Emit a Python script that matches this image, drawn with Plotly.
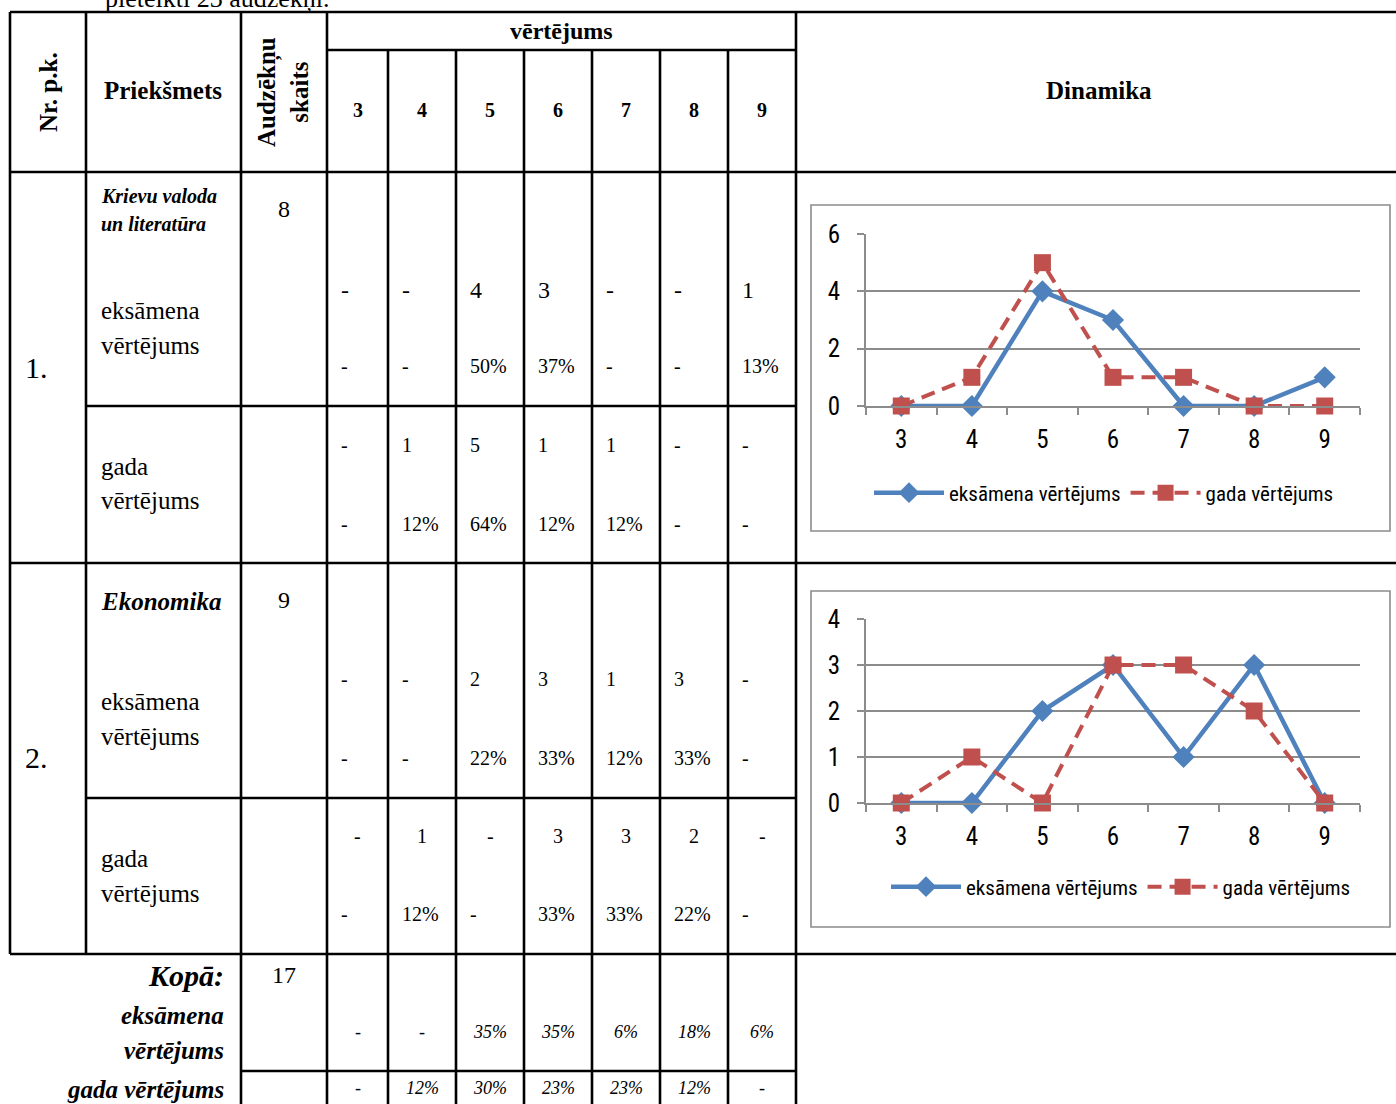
import plotly.graph_objects as go

W, H = 1396, 1104

# ---------------- data ----------------
grades = [3, 4, 5, 6, 7, 8, 9]
grade_labels = ["3", "4", "5", "6", "7", "8", "9"]

row_numbers = ["1.", "2."]
subject_lines = [["Krievu valoda", "un literatūra"], ["Ekonomika"]]
student_counts = ["8", "9"]
total_students = "17"

exam_counts_1 = [0, 0, 4, 3, 0, 0, 1]
year_counts_1 = [0, 1, 5, 1, 1, 0, 0]
exam_pct_1 = [None, None, 50, 37, None, None, 13]
year_pct_1 = [None, 12, 64, 12, 12, None, None]

exam_counts_2 = [0, 0, 2, 3, 1, 3, 0]
year_counts_2 = [0, 1, 0, 3, 3, 2, 0]
exam_pct_2 = [None, None, 22, 33, 12, 33, None]
year_pct_2 = [None, 12, None, 33, 33, 22, None]

total_exam_pct = [None, None, 35, 35, 6, 18, 6]
total_year_pct = [None, 12, 30, 23, 23, 12, None]

series_names = ["eksāmena vērtējums", "gada vērtējums"]

# ---------------- helpers ----------------
def px(x):
    return x / W

def py(y):
    return 1 - y / H

SERIF = "Liberation Serif, Times New Roman, serif"
NARROW = "Liberation Sans Narrow, Arial Narrow, Roboto Condensed, Roboto, sans-serif"
BLUE = "#4F81BD"
RED = "#C0504D"
GRAY = "#8c8c8c"

shapes = []
annotations = []

def hline(y, x0, x1, w=2.6):
    shapes.append(dict(type="line", xref="paper", yref="paper",
                       x0=px(x0), x1=px(x1), y0=py(y), y1=py(y),
                       line=dict(color="black", width=w)))

def vline(x, y0, y1, w=2.6):
    shapes.append(dict(type="line", xref="paper", yref="paper",
                       x0=px(x), x1=px(x), y0=py(y0), y1=py(y1),
                       line=dict(color="black", width=w)))

def txt(x, y, s, size, bold=False, italic=False, xanchor="center",
        yanchor="middle", angle=0, family=SERIF):
    if bold:
        s = "<b>" + s + "</b>"
    if italic:
        s = "<i>" + s + "</i>"
    annotations.append(dict(x=px(x), y=py(y), xref="paper", yref="paper",
                            text=s, showarrow=False, xanchor=xanchor,
                            yanchor=yanchor, textangle=angle,
                            font=dict(family=family, size=size, color="black")))

# ---------------- table grid ----------------
grade_cols = [327, 388, 456, 524, 592, 660, 728, 796]

hline(12, 10, 1396)
hline(50, 327, 796)
hline(172, 10, 1396)
hline(406, 86, 796)
hline(563, 10, 1396)
hline(798, 86, 796)
hline(954, 10, 1396)
hline(1071, 241, 796)

vline(10, 12, 954)
vline(86, 12, 954)
vline(241, 12, 1104)
vline(327, 12, 1104)
for gx in grade_cols[1:-1]:
    vline(gx, 50, 1104)
vline(796, 12, 1104)

# ---------------- header text ----------------
txt(103, 15, "pieteikti 23 audzēkņi.", 26, xanchor="left", yanchor="bottom")
txt(48, 92, "Nr. p.k.", 25, bold=True, angle=-90)
txt(163, 91, "Priekšmets", 25, bold=True)
txt(283, 92, "Audzēkņu<br>skaits", 25, bold=True, angle=-90)
txt(561, 31, "vērtējums", 24, bold=True)
for i, g in enumerate(grade_labels):
    cx = (grade_cols[i] + grade_cols[i + 1]) / 2
    txt(cx, 110, g, 20, bold=True)
txt(1099, 91, "Dinamika", 25, bold=True)

# ---------------- body text ----------------
txt(36, 367, row_numbers[0], 30)
txt(36, 757, row_numbers[1], 30)
txt(99, 196, subject_lines[0][0], 20, bold=True, italic=True, xanchor="left")
txt(99, 224, subject_lines[0][1], 20, bold=True, italic=True, xanchor="left")
txt(99, 601, subject_lines[1][0], 25, bold=True, italic=True, xanchor="left")
txt(284, 209, student_counts[0], 24)
txt(284, 600, student_counts[1], 24)

for (y1, y2) in [(310, 345), (701, 736)]:
    txt(99, y1, "eksāmena", 25, xanchor="left")
    txt(99, y2, "vērtējums", 25, xanchor="left")
for (y1, y2) in [(466, 501), (858, 893)]:
    txt(99, y1, "gada", 25, xanchor="left")
    txt(99, y2, "vērtējums", 25, xanchor="left")

def fmt_count(v):
    return "-" if v == 0 else str(v)

def fmt_pct(v):
    return "-" if v is None else f"{v}%"

row_specs = [
    (exam_counts_1, exam_pct_1, 290, 366, 24, 20, "left", "left"),
    (year_counts_1, year_pct_1, 445, 524, 20, 20, "left", "left"),
    (exam_counts_2, exam_pct_2, 679, 758, 20, 20, "left", "left"),
    (year_counts_2, year_pct_2, 836, 914, 20, 20, "center", "left"),
]
for counts, pcts, cy, pcy, cs, ps, ca, pa in row_specs:
    for i in range(len(grades)):
        left = grade_cols[i]
        center = (grade_cols[i] + grade_cols[i + 1]) / 2
        txt(left + 12 if ca == "left" else center, cy, fmt_count(counts[i]), cs, xanchor=ca)
        txt(left + 12 if pa == "left" else center, pcy, fmt_pct(pcts[i]), ps, xanchor=pa)

# totals
txt(226, 975, "Kopā:", 30, bold=True, italic=True, xanchor="right")
txt(226, 1015, "eksāmena", 25, bold=True, italic=True, xanchor="right")
txt(226, 1050, "vērtējums", 25, bold=True, italic=True, xanchor="right")
txt(226, 1089, "gada vērtējums", 25, bold=True, italic=True, xanchor="right")
txt(284, 975, total_students, 24)
for i in range(len(grades)):
    center = (grade_cols[i] + grade_cols[i + 1]) / 2
    txt(center, 1032, fmt_pct(total_exam_pct[i]), 18, italic=True)
    txt(center, 1088, fmt_pct(total_year_pct[i]), 18, italic=True)

# ---------------- chart frames ----------------
for (x0, y0, x1, y1) in [(811, 205, 1390, 531), (811, 591, 1390, 927)]:
    shapes.append(dict(type="rect", xref="paper", yref="paper",
                       x0=px(x0), x1=px(x1), y0=py(y1), y1=py(y0),
                       line=dict(color=GRAY, width=1.6), fillcolor="rgba(0,0,0,0)"))

# ---------------- charts ----------------
fig = go.Figure()

charts = [
    (exam_counts_1, year_counts_1, "x", "y", "legend"),
    (exam_counts_2, year_counts_2, "x2", "y2", "legend2"),
]
for ex, yr, xa, ya, lg in charts:
    fig.add_trace(go.Scatter(
        x=grades, y=ex, mode="lines+markers", name=series_names[0],
        xaxis=xa, yaxis=ya, legend=lg, cliponaxis=False,
        line=dict(color=BLUE, width=4.5),
        marker=dict(symbol="diamond", size=17, color=BLUE)))
    fig.add_trace(go.Scatter(
        x=grades, y=yr, mode="lines+markers", name=series_names[1],
        xaxis=xa, yaxis=ya, legend=lg, cliponaxis=False,
        line=dict(color=RED, width=4, dash="14px,8px"),
        marker=dict(symbol="square", size=17, color=RED)))

xcommon = dict(range=[2.5, 9.5], tickvals=grades, ticktext=grade_labels,
               ticks="", showgrid=False, zeroline=False, showline=True,
               linecolor=GRAY, linewidth=1.6, ticklabelstandoff=10,
               minor=dict(tick0=2.5, dtick=1, ticks="outside", ticklen=7,
                          tickcolor=GRAY, tickwidth=1.6, showgrid=False),
               tickfont=dict(family=NARROW, size=25, color="black"),
               fixedrange=True)
ycommon = dict(showgrid=True, gridcolor=GRAY, gridwidth=1.6, zeroline=False,
               showline=True, linecolor=GRAY, linewidth=1.6,
               ticks="outside", ticklen=7, tickcolor=GRAY, tickwidth=1.6,
               ticklabelstandoff=12,
               tickfont=dict(family=NARROW, size=25, color="black"),
               fixedrange=True)

fig.update_layout(
    width=W, height=H,
    margin=dict(l=0, r=0, t=0, b=0, pad=0, autoexpand=False),
    paper_bgcolor="white", plot_bgcolor="white",
    shapes=shapes, annotations=annotations,
    showlegend=True,
    xaxis=dict(domain=[px(866), px(1360)], anchor="y", **xcommon),
    yaxis=dict(domain=[py(406), py(234)], anchor="x", range=[0, 6], dtick=2, **ycommon),
    xaxis2=dict(domain=[px(866), px(1360)], anchor="y2", **xcommon),
    yaxis2=dict(domain=[py(803), py(619)], anchor="x2", range=[0, 4], dtick=1, **ycommon),
    legend=dict(orientation="h", x=px(1104), y=py(493), xanchor="center", yanchor="middle",
                font=dict(family=NARROW, size=21, color="black"), itemwidth=70,
                bgcolor="rgba(0,0,0,0)"),
    legend2=dict(orientation="h", x=px(1121), y=py(887), xanchor="center", yanchor="middle",
                 font=dict(family=NARROW, size=21, color="black"), itemwidth=70,
                 bgcolor="rgba(0,0,0,0)"),
)

fig.write_html("out.html", config={"displayModeBar": False},
               post_script="document.body.style.margin='0';document.body.style.overflow='hidden';")
